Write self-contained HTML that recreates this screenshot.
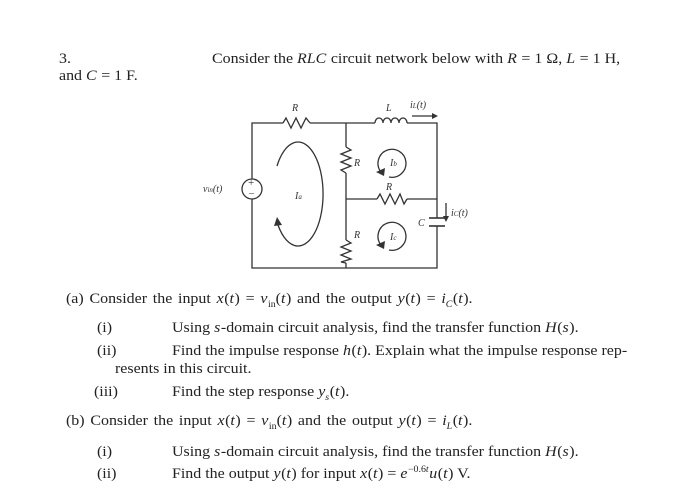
<!DOCTYPE html>
<html><head><style>
body{margin:0;width:696px;height:495px;background:#fff;position:relative;overflow:hidden;font-family:"Liberation Serif",serif;font-size:14.5px;color:#222}
.t{position:absolute;white-space:nowrap;line-height:16px;transform:scaleX(1.1);transform-origin:left top}
.w{word-spacing:1.6px}
i{font-style:italic;padding-right:0.5px}
sub,sup{line-height:0}
</style></head><body>
<div class="t" style="left:59px;top:51px">3.</div>
<div class="t" style="left:212px;top:51px">Consider the <i>RLC</i> circuit network below with <i>R</i> = 1 Ω, <i>L</i> = 1 H,</div>
<div class="t" style="left:59px;top:68px">and <i>C</i> = 1 F.</div>

<svg style="position:absolute;left:0;top:0" width="696" height="495">
<g fill="none" stroke="#333" stroke-width="1.3">
<polyline points="283,123 252,123 252,179"/>
<polyline points="252,199 252,268 437,268 437,226"/>
<polyline points="437,218 437,123 407,123"/>
<line x1="310" y1="123" x2="375" y2="123"/>
<line x1="346" y1="123" x2="346" y2="147"/>
<line x1="346" y1="173" x2="346" y2="240"/>
<line x1="346" y1="263" x2="346" y2="268"/>
<line x1="346" y1="199" x2="377" y2="199"/>
<line x1="407" y1="199" x2="437" y2="199"/>
<polyline points="283,123 286,118 291,128 296,118 301,128 306,118 310,123"/>
<polyline points="377,199 380,194 385,204 390,194 395,204 400,194 404,204 407,199"/>
<polyline points="346,147 351,150 341,154 351,158 341,162 351,166 341,170 346,173"/>
<polyline points="346,240 351,243 341,247 351,251 341,255 351,259 341,262 346,263"/>
<path d="M375,123 a4,5 0 0 1 8,0 a4,5 0 0 1 8,0 a4,5 0 0 1 8,0 a4,5 0 0 1 8,0"/>
<line x1="429" y1="218" x2="445" y2="218" stroke-width="1.6"/>
<line x1="429" y1="226" x2="445" y2="226" stroke-width="1.6"/>
<circle cx="252" cy="189" r="10" fill="#fff"/>
<path d="M277,222 A25,52 0 1 0 277,166"/>
<path d="M381,172 A14,14 0 1 1 389,177"/>
<path d="M381,245 A14,14 0 1 1 389,250"/>
<line x1="412" y1="116" x2="432" y2="116"/>
<line x1="446" y1="203" x2="446" y2="217"/>
</g>
<g fill="#333">
<polygon points="432,113 438,116 432,119"/>
<polygon points="443,216 446,222 449,216"/>
<polygon points="274,226 277,217 282,225"/>
<polygon points="376,172 385,168 384,176"/>
<polygon points="376,245 385,241 384,249"/>
</g>
<g font-family="Liberation Serif,serif" font-size="10" fill="#333" font-style="italic">
<text x="248" y="186" font-style="normal" font-size="11">+</text>
<text x="249" y="196" font-style="normal">–</text>
<text x="292" y="111">R</text>
<text x="386" y="111">L</text>
<text x="410" y="108">i<tspan font-size="7">L</tspan>(t)</text>
<text x="354" y="166">R</text>
<text x="354" y="238">R</text>
<text x="386" y="190">R</text>
<text x="390" y="166">I<tspan font-size="7">b</tspan></text>
<text x="390" y="240">I<tspan font-size="7">c</tspan></text>
<text x="295" y="199">I<tspan font-size="7">a</tspan></text>
<text x="418" y="226">C</text>
<text x="451" y="216">i<tspan font-size="7">C</tspan>(t)</text>
<text x="203" y="192">v<tspan font-size="7">in</tspan>(t)</text>
</g>
</svg>

<div class="t w" style="left:66px;top:291px">(a) Consider the input <i>x</i>(<i>t</i>) = <i>v</i><sub style="font-size:9px">in</sub>(<i>t</i>) and the output <i>y</i>(<i>t</i>) = <i>i<sub style="font-size:9px">C</sub></i>(<i>t</i>).</div>
<div class="t" style="left:97px;top:320px">(i)</div>
<div class="t" style="left:172px;top:320px">Using <i>s</i>-domain circuit analysis, find the transfer function <i>H</i>(<i>s</i>).</div>
<div class="t" style="left:97px;top:343px">(ii)</div>
<div class="t" style="left:172px;top:343px">Find the impulse response <i>h</i>(<i>t</i>). Explain what the impulse response rep-</div>
<div class="t" style="left:115px;top:361px">resents in this circuit.</div>
<div class="t" style="left:94px;top:384px">(iii)</div>
<div class="t" style="left:172px;top:384px">Find the step response <i>y<sub style="font-size:9px">s</sub></i>(<i>t</i>).</div>
<div class="t w" style="left:66px;top:413px">(b) Consider the input <i>x</i>(<i>t</i>) = <i>v</i><sub style="font-size:9px">in</sub>(<i>t</i>) and the output <i>y</i>(<i>t</i>) = <i>i<sub style="font-size:9px">L</sub></i>(<i>t</i>).</div>
<div class="t" style="left:97px;top:444px">(i)</div>
<div class="t" style="left:172px;top:444px">Using <i>s</i>-domain circuit analysis, find the transfer function <i>H</i>(<i>s</i>).</div>
<div class="t" style="left:97px;top:466px">(ii)</div>
<div class="t" style="left:172px;top:466px">Find the output <i>y</i>(<i>t</i>) for input <i>x</i>(<i>t</i>) = <i>e</i><sup style="font-size:9px">−0.6<i>t</i></sup><i>u</i>(<i>t</i>) V.</div>
</body></html>
